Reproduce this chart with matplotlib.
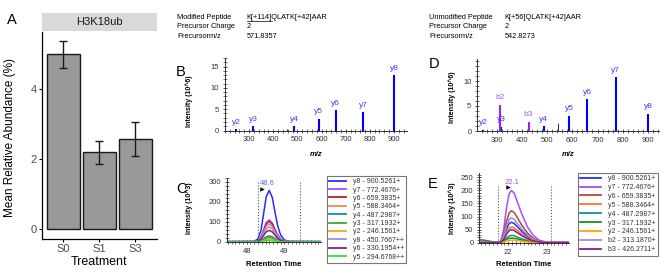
import matplotlib.pyplot as plt
from matplotlib.ticker import MultipleLocator
from matplotlib.lines import Line2D

plt.rcParams['font.family'] = ['Liberation Sans', 'DejaVu Sans']

W, H = 669, 279

# ---- panel A: bar chart
treatments = ['S0', 'S1', 'S3']
abundance = [5.0, 2.2, 2.57]
abundance_err = [0.38, 0.33, 0.49]

# ---- panel B: modified peptide spectrum
b_mz = [246.16, 317.19, 487.30, 588.35, 659.38, 772.47, 900.53]
b_int = [0.4, 1.0, 1.1, 2.8, 4.8, 4.3, 12.9]
b_lab = ['y2', 'y3', 'y4', 'y5', 'y6', 'y7', 'y8']
b_other_mz = [455.0]
b_other_int = [0.25]

# ---- panel D: unmodified peptide spectrum
d_y_mz = [246.16, 317.19, 487.30, 588.35, 659.38, 772.47, 900.53]
d_y_int = [0.3, 0.9, 1.0, 3.1, 6.4, 10.8, 3.5]
d_y_lab = ['y2', 'y3', 'y4', 'y5', 'y6', 'y7', 'y8']
d_b_mz = [313.19, 426.27]
d_b_int = [5.3, 1.9]
d_b_lab = ['b2', 'b3']
d_other_mz = [542.83]
d_other_int = [1.7]

# ---- panel C: chromatograms (10^3)
c_rt = [47.5, 48.2, 48.3, 48.38, 48.45, 48.52, 48.6, 48.68, 48.75, 48.82, 48.9, 49.0, 49.1, 50.0]
c_names = ['y8 - 900.5261+', 'y7 - 772.4676+', 'y6 - 659.3835+', 'y5 - 588.3464+',
           'y4 - 487.2987+', 'y3 - 317.1932+', 'y2 - 246.1561+', 'y8 - 450.7667++',
           'y6 - 330.1954++', 'y5 - 294.6768++']
c_colors = ['#2b2bff', '#a64dff', '#b22222', '#f08a4b', '#12948a', '#3aa83a',
            '#ffa500', '#9b8fd9', '#8b1a8b', '#33dd33']
c_y8 = [2, 3, 15, 57, 142, 227, 258, 222, 150, 83, 34, 10, 3, 2]
c_y7 = [1, 1, 7, 24, 60, 97, 110, 95, 64, 35, 14, 4, 1, 1]
c_y6 = [1, 1, 6, 23, 57, 91, 103, 89, 60, 33, 13, 4, 1, 1]
c_y5 = [0, 1, 5, 16, 41, 66, 75, 65, 44, 24, 10, 3, 1, 0]
c_y4 = [0, 0, 2, 7, 16, 26, 30, 26, 17, 10, 4, 1, 0, 0]
c_y3 = [0, 0, 1, 5, 12, 19, 22, 19, 13, 7, 3, 1, 0, 0]
c_y2 = [0, 0, 1, 3, 7, 11, 13, 11, 8, 4, 2, 1, 0, 0]
c_y8pp = [1, 1, 5, 20, 50, 79, 90, 77, 52, 29, 12, 4, 1, 1]
c_y6pp = [0, 1, 3, 13, 32, 51, 58, 50, 34, 19, 8, 2, 1, 0]
c_y5pp = [0, 0, 0, 2, 4, 7, 8, 7, 5, 3, 1, 0, 0, 0]
c_traces = [c_y8, c_y7, c_y6, c_y5, c_y4, c_y3, c_y2, c_y8pp, c_y6pp, c_y5pp]

# ---- panel E: chromatograms (10^3)
e_rt = [21.25, 21.4, 21.55, 21.7, 21.8, 21.88, 21.95, 22.02, 22.08, 22.15, 22.25,
        22.35, 22.5, 22.65, 22.8, 22.95, 23.1, 23.58]
e_names = ['y8 - 900.5261+', 'y7 - 772.4676+', 'y6 - 659.3835+', 'y5 - 588.3464+',
           'y4 - 487.2987+', 'y3 - 317.1932+', 'y2 - 246.1561+', 'b2 - 313.1870+',
           'b3 - 426.2711+']
e_colors = ['#2b2bff', '#a64dff', '#b5473a', '#f07b2b', '#12948a', '#1e8c1e',
            '#ffa500', '#9b8fd9', '#8b1a8b']
e_y8 = [1, 1, 1, 1, 2, 20, 51, 73, 78, 74, 59, 43, 23, 11, 4, 2, 1, 1]
e_y7 = [1, 1, 1, 1, 6, 50, 130, 186, 200, 190, 150, 110, 60, 28, 10, 4, 2, 1]
e_y6 = [1, 1, 1, 1, 4, 30, 79, 113, 122, 116, 92, 67, 37, 17, 6, 2, 1, 1]
e_y5 = [0, 0, 0, 0, 2, 15, 39, 56, 60, 57, 45, 33, 18, 8, 3, 1, 0, 0]
e_y4 = [0, 0, 0, 0, 1, 7, 18, 26, 28, 27, 21, 15, 8, 4, 1, 1, 0, 0]
e_y3 = [12, 9, 5, 1, 1, 5, 12, 17, 18, 17, 14, 10, 5, 3, 1, 0, 0, 0]
e_y2 = [0, 0, 0, 0, 0, 3, 7, 9, 10, 10, 8, 6, 3, 2, 1, 0, 0, 0]
e_b2 = [1, 1, 1, 1, 3, 24, 62, 88, 95, 90, 71, 52, 29, 13, 5, 2, 1, 1]
e_b3 = [0, 0, 0, 0, 2, 12, 32, 46, 50, 47, 37, 27, 15, 7, 3, 1, 0, 0]
e_traces = [e_y8, e_y7, e_y6, e_y5, e_y4, e_y3, e_y2, e_b2, e_b3]


def box(l, t, r, b):
    return [l / W, 1 - b / H, (r - l) / W, (b - t) / H]


def fx(x):
    return x / W


def fy(y):
    return 1 - y / H


fig = plt.figure(figsize=(W / 100, H / 100), dpi=100)

# ================= A
ax = fig.add_axes(box(41.7, 32, 157, 239))
pos = [1, 2, 3]
ax.bar(pos, abundance, width=0.9, color='#999999', edgecolor='#1a1a1a', linewidth=1.0)
ax.errorbar(pos, abundance, yerr=abundance_err, fmt='none', ecolor='#1a1a1a',
            elinewidth=1.0, capsize=2.9, capthick=1.0)
ax.set_xlim(0.4, 3.6)
ax.set_ylim(-0.28, 5.64)
ax.set_xticks(pos)
ax.set_xticklabels(treatments)
ax.set_yticks([0, 2, 4])
for s in ['top', 'right']:
    ax.spines[s].set_visible(False)
for s in ['left', 'bottom']:
    ax.spines[s].set_linewidth(0.9)
    ax.spines[s].set_color('black')
ax.tick_params(length=2.5, width=0.8, pad=1, labelsize=8, labelcolor='#4d4d4d')

strip = fig.add_axes(box(41.7, 13, 157, 31))
strip.set_facecolor('#d9d9d9')
strip.set_xticks([])
strip.set_yticks([])
for s in strip.spines.values():
    s.set_visible(False)
strip.text(0.5, 0.5, 'H3K18ub', ha='center', va='center', fontsize=8, color='#1a1a1a',
           transform=strip.transAxes)

fig.text(fx(10), fy(137), 'Mean Relative Abundance (%)', rotation=90, ha='center',
         va='center', fontsize=8.5)
fig.text(fx(99), fy(262), 'Treatment', ha='center', va='center', fontsize=9)
fig.text(fx(12), fy(20), 'A', ha='center', va='center', fontsize=10.5)


def style_small(ax):
    for s in ['top', 'right']:
        ax.spines[s].set_visible(False)
    for s in ['left', 'bottom']:
        ax.spines[s].set_linewidth(0.7)
        ax.spines[s].set_color('#333333')
    ax.tick_params(which='major', direction='inout', length=3.5, width=0.6,
                   labelsize=5.5, pad=2.5, color='#333333', labelcolor='#333333')
    ax.tick_params(which='minor', direction='inout', length=2.2, width=0.5,
                   color='#333333')


# ================= headers
hdr_fs = 5.3
for x0, x1, title, pep, chg, mz in [(177, 246.7, 'Modified Peptide', 'K[+114]QLATK[+42]AAR', '2', '571.8357'),
                                     (429.3, 504.3, 'Unmodified Peptide', 'K[+56]QLATK[+42]AAR', '2', '542.8273')]:
    fig.text(fx(x0), fy(17.3), title, fontsize=hdr_fs, va='center')
    fig.text(fx(x0), fy(26.7), 'Precursor Charge', fontsize=hdr_fs, va='center')
    fig.text(fx(x0), fy(36), 'Precursorm/z', fontsize=hdr_fs, va='center')
    fig.text(fx(x1), fy(17.3), pep, fontsize=hdr_fs, va='center')
    fig.text(fx(x1), fy(26.7), chg, fontsize=hdr_fs, va='center')
    fig.text(fx(x1), fy(36), mz, fontsize=hdr_fs, va='center')

# underline the modified residue
fig.canvas.draw()
r = fig.canvas.get_renderer()
tmp = fig.text(fx(246.7), fy(17.3), 'K[+114]', fontsize=hdr_fs, va='center', alpha=0)
bb = tmp.get_window_extent(r)
fig.add_artist(Line2D([bb.x0 / W, bb.x1 / W], [(bb.y0 - 0.5) / H, (bb.y0 - 0.5) / H],
                      color='black', lw=0.5, transform=fig.transFigure))


# ================= spectra
def spectrum(ax, xlim, ylim, series, others):
    for mz, inten, labs, bar_c, lab_c in series:
        ax.vlines(mz, 0, inten, color=bar_c, lw=1.5)
        for m, i, lab in zip(mz, inten, labs):
            ax.annotate(lab, (m, i), xytext=(0, 2.3), textcoords='offset points',
                        ha='center', va='bottom', fontsize=6, color=lab_c)
    ax.vlines(others[0], 0, others[1], color='#333333', lw=0.7)
    ax.set_xlim(*xlim)
    ax.set_ylim(*ylim)
    ax.set_xticks(range(300, 1000, 100))
    ax.xaxis.set_minor_locator(MultipleLocator(20))
    ax.yaxis.set_minor_locator(MultipleLocator(1))
    ax.set_yticks([0, 5, 10, 15] if ylim[1] > 15 else [0, 5, 10])
    style_small(ax)


axb = fig.add_axes(box(225, 58, 407, 130.5))
spectrum(axb, (200, 954), (0, 17.0),
         [(b_mz, b_int, b_lab, '#0000ff', '#3c3cff')], (b_other_mz, b_other_int))
axd = fig.add_axes(box(477.3, 59, 659, 131))
spectrum(axd, (223, 944), (0, 14.4),
         [(d_y_mz, d_y_int, d_y_lab, '#0000ff', '#3c3cff'),
          (d_b_mz, d_b_int, d_b_lab, '#a020f0', '#b45cf0')], (d_other_mz, d_other_int))

for x, y0 in [(316, 155), (568, 155)]:
    fig.text(fx(x), fy(y0), 'm/z', ha='center', va='center', fontsize=5.5,
             fontweight='bold', fontstyle='italic')
for x, yc in [(189, 101), (452, 97)]:
    fig.text(fx(x), fy(yc), 'Intensity (10^6)', rotation=90, ha='center', va='center',
             fontsize=5, fontweight='bold')
fig.text(fx(181), fy(72), 'B', ha='center', va='center', fontsize=10.5)
fig.text(fx(434), fy(64), 'D', ha='center', va='center', fontsize=10.5)


# ================= chromatograms
def chrom(ax, rt, traces, colors, names, xlim, ylim, ticks, bounds, vtop,
          apex, arrow, lab_c, leg_box, spacing, hlen):
    for tr, c in zip(traces, colors):
        ax.plot(rt, tr, color=c, lw=1.1)
    ax.vlines(bounds, 0, vtop, colors='#555555', linestyles=':', lw=0.8)
    ax.plot(arrow[0], arrow[1], marker='>', color='black', ms=3.2, mew=0)
    ax.text(apex[0], apex[1], apex[2], ha='center', va='center', fontsize=5.5,
            color=lab_c)
    ax.set_xlim(*xlim)
    ax.set_ylim(*ylim)
    ax.set_xticks(ticks[0])
    ax.set_yticks(ticks[1])
    ax.xaxis.set_minor_locator(MultipleLocator(0.1))
    ax.yaxis.set_minor_locator(MultipleLocator(ticks[2]))
    style_small(ax)
    handles = [Line2D([], [], color=c, lw=1.3) for c in colors]
    leg = ax.legend(handles, names, loc='upper left',
                    bbox_to_anchor=(fx(leg_box[0]), fy(leg_box[1])),
                    bbox_transform=fig.transFigure, fontsize=5, frameon=True,
                    fancybox=False, handlelength=hlen, handletextpad=1.0,
                    labelspacing=spacing, borderpad=0.35, borderaxespad=0)
    leg.get_frame().set_edgecolor('#555555')
    leg.get_frame().set_linewidth(0.8)
    for t in leg.get_texts():
        t.set_color('#333333')


axc = fig.add_axes(box(227, 178, 321, 242.3))
chrom(axc, c_rt, c_traces, c_colors, c_names, (47.48, 49.97), (-2, 320),
      ([48, 49], [0, 100, 200, 300], 20), [48.3, 49.42], 305,
      (48.55, 290, '48.6'), (48.42, 265), '#5a6cf0', (326.7, 175.7), 0.2, 2.4)
axe = fig.add_axes(box(479.3, 173.3, 569, 243))
chrom(axe, e_rt, e_traces, e_colors, e_names, (21.245, 23.58), (-1, 265),
      ([22, 23], [0, 50, 100, 150, 200, 250], 10), [21.74, 23.11], 215,
      (22.09, 230, '22.1'), (21.98, 211), '#a64dff', (578, 172.7), 0.27, 2.9)

for x in [274, 524]:
    fig.text(fx(x), fy(265), 'Retention Time', ha='center', va='center', fontsize=5.5,
             fontweight='bold')
for x, yc in [(189, 208), (452, 208)]:
    fig.text(fx(x), fy(yc), 'Intensity (10^3)', rotation=90, ha='center', va='center',
             fontsize=5, fontweight='bold')
fig.text(fx(181), fy(189), 'C', ha='center', va='center', fontsize=10.5)
fig.text(fx(433), fy(184), 'E', ha='center', va='center', fontsize=10.5)

fig.savefig('out.png', dpi=100)
